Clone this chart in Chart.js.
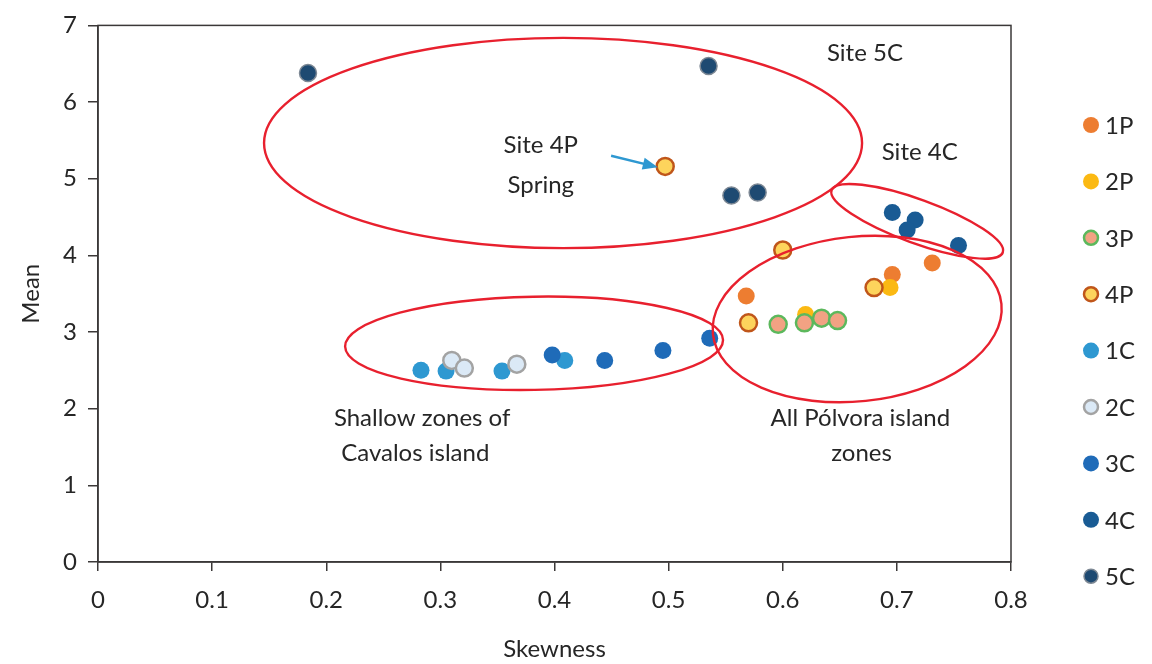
<!DOCTYPE html>
<html><head><meta charset="utf-8">
<script src="https://cdn.jsdelivr.net/npm/chart.js@4.4.1/dist/chart.umd.min.js"></script>
<style>html,body{margin:0;padding:0;background:#fff}#wrap{width:1152px;height:664px}</style>
</head><body><div id="wrap"><canvas id="c" width="1152" height="664"></canvas></div>
<script>
// ---- data ----
const seriesNames = ['1P','2P','3P','4P','1C','2C','3C','4C','5C'];
const skew1P = [0.568, 0.696, 0.731];
const mean1P = [3.47, 3.75, 3.90];
const skew2P = [0.694, 0.620];
const mean2P = [3.58, 3.23];
const skew3P = [0.596, 0.619, 0.634, 0.648];
const mean3P = [3.10, 3.12, 3.18, 3.15];
const skew4P = [0.497, 0.600, 0.570, 0.680];
const mean4P = [5.16, 4.07, 3.12, 3.58];
const skew1C = [0.283, 0.305, 0.354, 0.409];
const mean1C = [2.50, 2.49, 2.49, 2.63];
const skew2C = [0.310, 0.321, 0.367];
const mean2C = [2.63, 2.53, 2.58];
const skew3C = [0.398, 0.444, 0.495, 0.536];
const mean3C = [2.70, 2.63, 2.76, 2.92];
const skew4C = [0.696, 0.716, 0.709, 0.754];
const mean4C = [4.56, 4.46, 4.33, 4.13];
const skew5C = [0.184, 0.535, 0.555, 0.578];
const mean5C = [6.38, 6.47, 4.78, 4.82];
const xTicks = [0, 0.1, 0.2, 0.3, 0.4, 0.5, 0.6, 0.7, 0.8];
const yTicks = [0, 1, 2, 3, 4, 5, 6, 7];

// annotation ellipses (centre / semi-axes in data units, tilt in degrees)
const ellipseCX = [0.4075, 0.7178, 0.6652, 0.3821];
const ellipseCY = [5.466, 4.444, 3.17, 2.853];
const ellipseRX = [0.262, 0.0798, 0.1271, 0.1656];
const ellipseRY = [1.371, 0.285, 1.074, 0.608];
const ellipseTilt = [0, 20, -6, -1];
// annotation notes
const noteText = ['Site 5C', 'Site 4P', 'Spring', 'Site 4C', 'Shallow zones of', 'Cavalos island', 'All Pólvora island', 'zones'];
const noteX = [0.672, 0.388, 0.388, 0.720, 0.284, 0.278, 0.668, 0.669];
const noteY = [6.64, 5.43, 4.91, 5.35, 1.88, 1.42, 1.88, 1.42];
const arrowFrom = [0.4496, 5.30];
const arrowTo = [0.4905, 5.15];

// ---- styles ----
const fills   = ['#ed7d31','#fbb913','#f2a283','#fdd45c','#2e98d1','#dbe9f6','#1f6bb8','#195b94','#1e4a72'];
const borders = ['#ed7d31','#fbb913','#5cb85c','#c0561a','#2e98d1','#a3a3a3','#1f6bb8','#195b94','#7d8894'];
const bwidth  = [0, 0, 2.5, 2.5, 0, 2.5, 0, 0, 1.5];
const xs = [skew1P, skew2P, skew3P, skew4P, skew1C, skew2C, skew3C, skew4C, skew5C];
const ys = [mean1P, mean2P, mean3P, mean4P, mean1C, mean2C, mean3C, mean4C, mean5C];
const axisColor = '#3b3838';
const textColor = '#262626';
const FONT = 'Lato';
const FS = 24;

const datasets = seriesNames.map((n, i) => ({
  label: n,
  data: xs[i].map((v, j) => ({x: v, y: ys[i][j]})),
  backgroundColor: fills[i],
  borderColor: borders[i],
  borderWidth: bwidth[i],
  pointRadius: 8.5,
  pointHoverRadius: 8.5,
  order: seriesNames.length - 1 - i
}));

const decor = {
  id: 'decor',
  afterDatasetsDraw(chart) {
    const {ctx, chartArea: a, scales: {x, y}} = chart;
    ctx.save();
    // frame
    ctx.strokeStyle = axisColor; ctx.lineWidth = 1.5;
    ctx.strokeRect(a.left, a.top, a.right - a.left, a.bottom - a.top);
    // ellipses
    ctx.strokeStyle = '#e8202e'; ctx.lineWidth = 2.4;
    ellipseCX.forEach((cxv, i) => {
      const cx = x.getPixelForValue(cxv), cy = y.getPixelForValue(ellipseCY[i]);
      const rx = Math.abs(x.getPixelForValue(cxv + ellipseRX[i]) - cx);
      const ry = Math.abs(y.getPixelForValue(ellipseCY[i] + ellipseRY[i]) - cy);
      ctx.beginPath();
      ctx.ellipse(cx, cy, rx, ry, ellipseTilt[i] * Math.PI / 180, 0, 2 * Math.PI);
      ctx.stroke();
    });
    // notes
    ctx.fillStyle = textColor; ctx.font = FS + 'px ' + FONT;
    ctx.textAlign = 'center'; ctx.textBaseline = 'middle';
    noteText.forEach((t, i) => ctx.fillText(t, x.getPixelForValue(noteX[i]), y.getPixelForValue(noteY[i])));
    // arrow
    const x1 = x.getPixelForValue(arrowFrom[0]), y1 = y.getPixelForValue(arrowFrom[1]);
    const x2 = x.getPixelForValue(arrowTo[0]), y2 = y.getPixelForValue(arrowTo[1]);
    const ang = Math.atan2(y2 - y1, x2 - x1);
    ctx.strokeStyle = '#2e98d1'; ctx.fillStyle = '#2e98d1'; ctx.lineWidth = 2.5;
    ctx.beginPath(); ctx.moveTo(x1, y1);
    ctx.lineTo(x2 - 12 * Math.cos(ang), y2 - 12 * Math.sin(ang)); ctx.stroke();
    ctx.beginPath(); ctx.moveTo(x2, y2);
    ctx.lineTo(x2 - 15 * Math.cos(ang) + 6 * Math.sin(ang), y2 - 15 * Math.sin(ang) - 6 * Math.cos(ang));
    ctx.lineTo(x2 - 15 * Math.cos(ang) - 6 * Math.sin(ang), y2 - 15 * Math.sin(ang) + 6 * Math.cos(ang));
    ctx.closePath(); ctx.fill();
    // legend
    ctx.textAlign = 'left'; ctx.textBaseline = 'middle'; ctx.font = FS + 'px ' + FONT;
    chart.data.datasets.forEach((ds, i) => {
      const ly = 125 + i * 56.4, lx = 1091;
      ctx.beginPath(); ctx.arc(lx, ly, ds.borderWidth ? 7 : 8, 0, 2 * Math.PI);
      ctx.fillStyle = ds.backgroundColor; ctx.fill();
      if (ds.borderWidth) { ctx.lineWidth = ds.borderWidth; ctx.strokeStyle = ds.borderColor; ctx.stroke(); }
      ctx.fillStyle = textColor;
      ctx.fillText(ds.label, 1105, ly + 1);
    });
    ctx.restore();
  }
};

new Chart(document.getElementById('c'), {
  type: 'scatter',
  data: {datasets},
  options: {
    responsive: false,
    animation: false,
    layout: {padding: {left: 0, top: 21, right: 141, bottom: 0}},
    plugins: {legend: {display: false}, tooltip: {enabled: false}},
    scales: {
      x: {
        type: 'linear', min: 0, max: 0.8,
        afterBuildTicks: s => { s.ticks = xTicks.map(v => ({value: v})); },
        afterFit: s => { s.height = 102; },
        ticks: {color: textColor, font: {family: FONT, size: FS}, padding: 15, callback: v => String(+v.toFixed(1))},
        grid: {drawOnChartArea: false, drawTicks: true, tickLength: 9, color: axisColor, lineWidth: 1.5},
        border: {color: axisColor, width: 1.5},
        title: {display: true, text: 'Skewness', color: textColor, font: {family: FONT, size: FS}, padding: {top: 0, bottom: 0}}
      },
      y: {
        type: 'linear', min: 0, max: 7,
        afterBuildTicks: s => { s.ticks = yTicks.map(v => ({value: v})); },
        afterFit: s => { s.width = 98; },
        ticks: {color: textColor, font: {family: FONT, size: FS}, padding: 11},
        grid: {drawOnChartArea: false, drawTicks: true, tickLength: 10, color: axisColor, lineWidth: 1.5},
        border: {color: axisColor, width: 1.5},
        title: {display: true, text: 'Mean', color: textColor, font: {family: FONT, size: FS}, padding: {top: 17, bottom: 17}}
      }
    }
  },
  plugins: [decor]
});
</script></body></html>
